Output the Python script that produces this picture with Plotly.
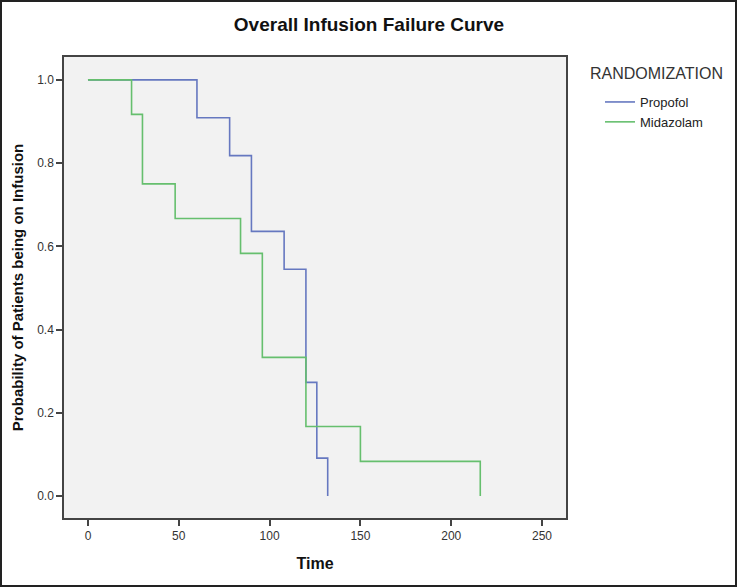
import plotly.graph_objects as go

propofol_time = [0, 60, 78, 90, 108, 120, 126, 132]
propofol_surv = [1.0, 0.909, 0.818, 0.636, 0.545, 0.273, 0.091, 0.0]
midazolam_time = [0, 24, 30, 48, 84, 96, 120, 150, 216]
midazolam_surv = [1.0, 0.917, 0.75, 0.667, 0.583, 0.333, 0.167, 0.083, 0.0]

x_ticks = [0, 50, 100, 150, 200, 250]
y_ticks = [0.0, 0.2, 0.4, 0.6, 0.8, 1.0]

W, H = 737, 587
ML, MR, MT, MB = 64, 171, 57, 69
PW, PH = W - ML - MR, H - MT - MB

fig = go.Figure()
fig.add_trace(go.Scatter(x=propofol_time, y=propofol_surv, mode="lines", line_shape="hv",
                         name="Propofol", line=dict(color="#6678c0", width=1.6)))
fig.add_trace(go.Scatter(x=midazolam_time, y=midazolam_surv, mode="lines", line_shape="hv",
                         name="Midazolam", line=dict(color="#66bf6e", width=1.6)))

axis_font = dict(family="Liberation Sans, Arial", size=12, color="#333")
fig.update_layout(
    width=W, height=H,
    margin=dict(l=ML, r=MR, t=MT, b=MB),
    paper_bgcolor="white", plot_bgcolor="#f2f2f2",
    title=dict(text="<b>Overall Infusion Failure Curve</b>", x=(369 - ML) / PW, xanchor="center",
               xref="paper",
               y=1 - 24 / H, yanchor="middle",
               font=dict(family="Liberation Sans, Arial", size=19, color="#111")),
    xaxis=dict(range=[-13.2, 263.2], tickvals=x_ticks, ticktext=[str(v) for v in x_ticks],
               showgrid=False, zeroline=False, showline=True, mirror=True, linecolor="#444",
               linewidth=1.5, ticks="outside", ticklen=6, tickcolor="#444", tickwidth=1.5,
               tickfont=axis_font,
               title=dict(text="<b>Time</b>", font=dict(family="Liberation Sans, Arial", size=16, color="#111"),
                          standoff=16)),
    yaxis=dict(range=[-0.053, 1.055], tickvals=y_ticks, ticktext=[f"{v:.1f}" for v in y_ticks],
               showgrid=False, zeroline=False, showline=True, mirror=True, linecolor="#444",
               linewidth=1.5, ticks="outside", ticklen=6, tickcolor="#444", tickwidth=1.5,
               tickfont=axis_font,
               title=dict(text="<b>Probability of Patients being on Infusion</b>",
                          font=dict(family="Liberation Sans, Arial", size=15, color="#111"),
                          standoff=10)),
    legend=dict(x=(600 - ML) / PW, y=(H - MB - 87) / PH, xanchor="left", yanchor="top",
                bgcolor="rgba(0,0,0,0)",
                font=dict(family="Liberation Sans, Arial", size=13, color="#222"),
                itemwidth=30, tracegroupgap=0),
    annotations=[dict(text="RANDOMIZATION", xref="paper", yref="paper",
                      x=(588 - ML) / PW, y=(H - MB - 73) / PH, xanchor="left", yanchor="middle",
                      showarrow=False,
                      font=dict(family="Liberation Sans, Arial", size=16, color="#333"))],
    shapes=[dict(type="rect", xref="paper", yref="paper",
                 x0=-ML / PW + 1 / PW, x1=(W - ML) / PW - 1 / PW,
                 y0=-MB / PH + 1 / PH, y1=(H - MB) / PH - 1 / PH,
                 line=dict(color="#222", width=2), layer="below")],
    showlegend=True,
)

fig.write_html("out.html", config={"displayModeBar": False},
               post_script="document.body.style.margin='0';document.body.style.overflow='hidden';")
